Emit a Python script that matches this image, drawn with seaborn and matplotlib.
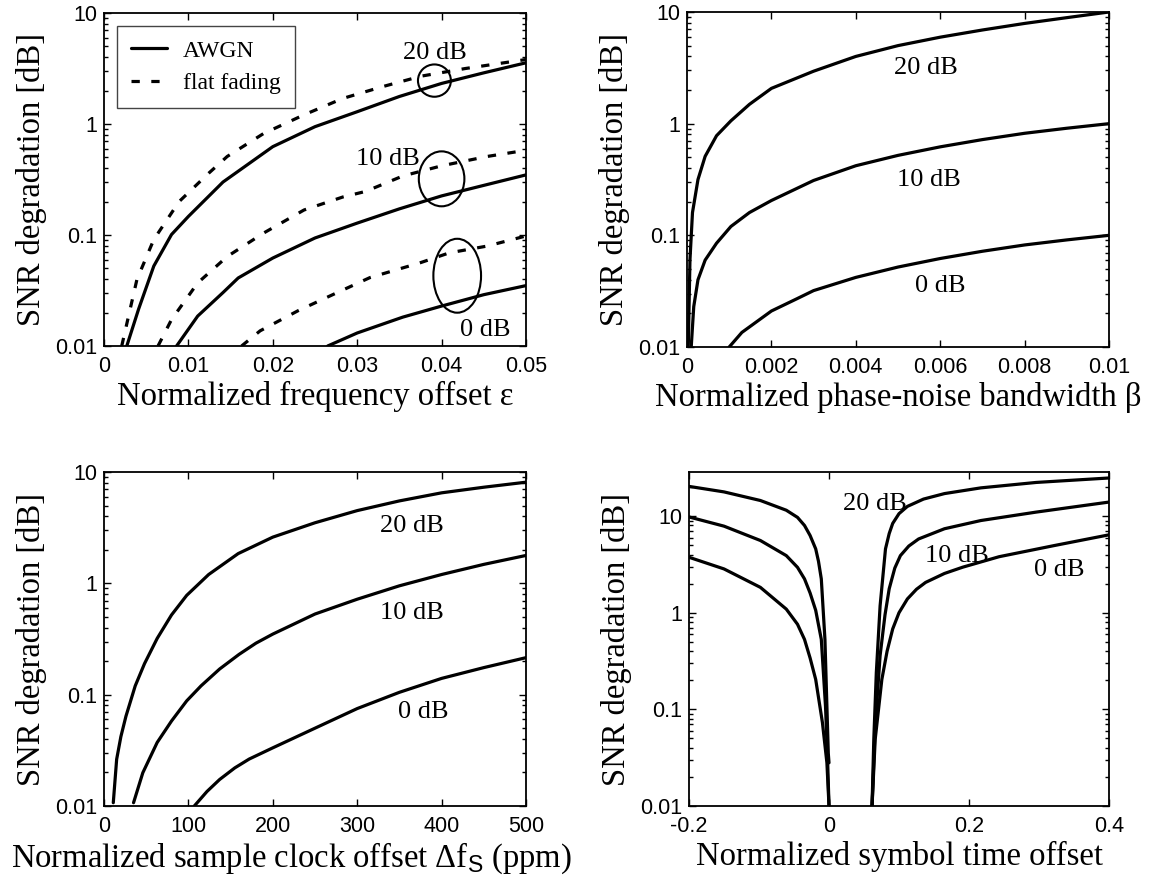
import matplotlib
matplotlib.use("Agg")
import matplotlib.pyplot as plt
from matplotlib.patches import Ellipse
from matplotlib.ticker import FuncFormatter, NullFormatter, LogLocator, FixedLocator
import seaborn as sns

# ---------------- data ----------------
# (a) frequency offset
eps_awgn20 = [0.0027, 0.0041, 0.0059, 0.008, 0.01, 0.0141, 0.02, 0.025, 0.03, 0.035, 0.04, 0.045, 0.05]
deg_awgn20 = [0.01, 0.0215, 0.0525, 0.101, 0.147, 0.30, 0.625, 0.946, 1.29, 1.77, 2.32, 2.89, 3.56]
eps_awgn10 = [0.0086, 0.0111, 0.0141, 0.0159, 0.02, 0.025, 0.03, 0.035, 0.04, 0.045, 0.05]
deg_awgn10 = [0.01, 0.0186, 0.0303, 0.041, 0.062, 0.094, 0.128, 0.172, 0.225, 0.28, 0.348]
eps_awgn0 = [0.0265, 0.03, 0.0354, 0.04, 0.045, 0.05]
deg_awgn0 = [0.01, 0.0131, 0.0182, 0.0229, 0.029, 0.035]
eps_ff20 = [0.0021, 0.0039, 0.0059, 0.0089, 0.0124, 0.0146, 0.0189, 0.0237, 0.0283, 0.033, 0.0376, 0.0428, 0.05]
deg_ff20 = [0.01, 0.0397, 0.091, 0.20, 0.36, 0.51, 0.82, 1.21, 1.70, 2.17, 2.7, 3.16, 3.81]
eps_ff10 = [0.0064, 0.008, 0.0111, 0.0146, 0.0189, 0.0237, 0.0283, 0.031, 0.0354, 0.04, 0.0454, 0.05]
deg_ff10 = [0.01, 0.0173, 0.037, 0.064, 0.104, 0.168, 0.22, 0.247, 0.34, 0.42, 0.51, 0.58]
eps_ff0 = [0.0163, 0.0185, 0.023, 0.0276, 0.0315, 0.0348, 0.0374, 0.0409, 0.0454, 0.05]
deg_ff0 = [0.01, 0.0137, 0.0208, 0.0302, 0.0413, 0.049, 0.056, 0.069, 0.0795, 0.098]

# (b) phase-noise bandwidth
beta20 = [0.00003, 0.00007, 0.00013, 0.00026, 0.00043, 0.0007, 0.00104, 0.00148, 0.002,
          0.003, 0.004, 0.005, 0.006, 0.007, 0.008, 0.009, 0.01]
deg_pn20 = [0.01, 0.06, 0.16, 0.316, 0.51, 0.78, 1.06, 1.49, 2.07,
            2.95, 4.0, 5.0, 5.95, 6.9, 7.9, 8.9, 10.0]
beta10 = [0.0001, 0.00016, 0.00026, 0.00043, 0.0007, 0.00104, 0.00148, 0.002,
          0.003, 0.004, 0.005, 0.006, 0.007, 0.008, 0.009, 0.01]
deg_pn10 = [0.01, 0.023, 0.04, 0.06, 0.085, 0.12, 0.16, 0.205,
            0.31, 0.42, 0.52, 0.62, 0.72, 0.82, 0.91, 1.0]
beta0 = [0.001, 0.0013, 0.002, 0.0026, 0.003, 0.004, 0.005, 0.006, 0.007, 0.008, 0.009, 0.01]
deg_pn0 = [0.01, 0.0135, 0.021, 0.027, 0.032, 0.042, 0.052, 0.062, 0.072, 0.082, 0.091, 0.1]

# (c) sample clock offset (ppm)
ppm20 = [11, 15, 20, 26, 37, 48, 63, 80, 98, 124, 159, 200, 250, 300, 350, 400, 450, 500]
deg_sc20 = [0.0107, 0.0263, 0.042, 0.064, 0.12, 0.19, 0.32, 0.52, 0.78, 1.2, 1.85, 2.6, 3.5, 4.5, 5.5, 6.5, 7.3, 8.1]
ppm10 = [35, 46, 63, 80, 98, 115, 137, 160, 180, 200, 250, 300, 350, 400, 450, 500]
deg_sc10 = [0.0107, 0.0199, 0.0372, 0.058, 0.088, 0.12, 0.17, 0.23, 0.29, 0.35, 0.53, 0.72, 0.95, 1.2, 1.48, 1.78]
ppm0 = [107, 122, 137, 155, 172, 200, 250, 300, 350, 400, 450, 500]
deg_sc0 = [0.01, 0.0135, 0.0173, 0.022, 0.0264, 0.0333, 0.05, 0.075, 0.105, 0.14, 0.175, 0.215]

# (d) symbol time offset, left and right branches
t20_l = [-0.2, -0.15, -0.098, -0.061, -0.045, -0.035, -0.027, -0.019, -0.015, -0.011, -0.0058, -0.003, -0.001, 0.0]
deg_st20_l = [20.3, 17.8, 14.5, 11.5, 9.7, 8.0, 6.3, 4.58, 3.4, 2.24, 0.53, 0.108, 0.035, 0.028]
t10_l = [-0.2, -0.15, -0.098, -0.061, -0.045, -0.035, -0.027, -0.019, -0.011, -0.005, -0.002, 0.0]
deg_st10_l = [9.8, 7.87, 5.59, 3.9, 2.95, 2.24, 1.6, 1.06, 0.53, 0.108, 0.03, 0.01]
t0_l = [-0.2, -0.15, -0.098, -0.061, -0.045, -0.035, -0.027, -0.019, -0.0094, -0.003, 0.0]
deg_st0_l = [3.75, 2.84, 1.83, 1.09, 0.76, 0.53, 0.34, 0.204, 0.073, 0.028, 0.01]
t20_r = [0.0615, 0.064, 0.0676, 0.073, 0.0807, 0.086, 0.091, 0.1, 0.112, 0.135, 0.165, 0.217, 0.296, 0.4]
deg_st20_r = [0.01, 0.049, 0.24, 1.18, 4.58, 6.6, 8.4, 10.6, 12.6, 15.0, 17.1, 19.6, 22.3, 24.8]
t10_r = [0.0615, 0.066, 0.073, 0.08, 0.086, 0.094, 0.102, 0.114, 0.128, 0.165, 0.217, 0.296, 0.4]
deg_st10_r = [0.01, 0.067, 0.36, 0.95, 1.77, 2.9, 3.9, 4.9, 5.8, 7.4, 9.0, 11.0, 13.97]
t0_r = [0.0615, 0.066, 0.0755, 0.083, 0.091, 0.1, 0.112, 0.125, 0.138, 0.165, 0.191, 0.243, 0.322, 0.4]
deg_st0_r = [0.01, 0.049, 0.204, 0.4, 0.68, 1.0, 1.39, 1.75, 2.06, 2.55, 2.96, 3.8, 4.96, 6.4]

snr_labels = ["20 dB", "10 dB", "0 dB"]

# ---------------- styling ----------------
sns.set_theme(style="ticks")
plt.rcParams["font.family"] = ["Liberation Serif", "DejaVu Serif"]
plt.rcParams["mathtext.fontset"] = "custom"
plt.rcParams["mathtext.rm"] = "Liberation Serif"
plt.rcParams["mathtext.sf"] = "Liberation Sans"
plt.rcParams["axes.linewidth"] = 1.3
plt.rcParams["axes.edgecolor"] = "black"
for k in ["text.color", "axes.labelcolor", "xtick.color", "ytick.color",
          "xtick.labelcolor", "ytick.labelcolor"]:
    plt.rcParams[k] = "black"

SERIF = "Liberation Serif"
SANS = "Liberation Sans"
LW = 2.3
DASH = (0, (2.6, 3.6))

fig = plt.figure(figsize=(11.52, 8.77), dpi=100)
W, H = 1152.0, 877.0


def make_ax(l, r, t, b):
    return fig.add_axes([l / W, 1 - b / H, (r - l) / W, (b - t) / H])


ax1 = make_ax(104, 526, 13, 346)
ax2 = make_ax(687, 1109, 12, 347)
ax3 = make_ax(104, 526, 472, 806)
ax4 = make_ax(689, 1109, 472, 806)


def style_axis(ax, xlim, ylim, xticks, xlabel, xlabel_x=0.5):
    ax.set_yscale("log")
    ax.set_xlim(*xlim)
    ax.set_ylim(*ylim)
    ax.xaxis.set_major_locator(FixedLocator(xticks))
    ax.xaxis.set_major_formatter(FuncFormatter(lambda v, p: f"{v:g}"))
    ax.yaxis.set_major_locator(LogLocator(base=10, numticks=10))
    ax.yaxis.set_minor_locator(LogLocator(base=10, subs=range(2, 10), numticks=10))
    ax.yaxis.set_major_formatter(FuncFormatter(lambda v, p: f"{v:g}"))
    ax.yaxis.set_minor_formatter(NullFormatter())
    ax.tick_params(which="both", direction="in", top=True, right=True,
                   color="black", width=1.0)
    ax.tick_params(which="major", length=5, labelsize=15.5,
                   labelfontfamily=SANS, labelcolor="black")
    ax.tick_params(axis="x", which="major", pad=7)
    ax.tick_params(axis="y", which="major", pad=5)
    ax.tick_params(which="minor", length=3)
    ax.set_xlabel(xlabel, fontsize=23.5, family=SERIF, labelpad=3, color="black",
                  x=xlabel_x)
    ax.set_ylabel("SNR degradation [dB]", fontsize=23.5, family=SERIF, labelpad=6,
                  color="black")
    for s in ax.spines.values():
        s.set_visible(True)
        s.set_color("black")
        s.set_linewidth(1.3)


def curve(ax, x, y, dashed=False, label=None):
    kw = dict(x=x, y=y, ax=ax, color="black", linewidth=LW, legend=False,
              estimator=None, sort=False)
    if dashed:
        kw["linestyle"] = DASH
    if label is not None:
        kw["label"] = label
    sns.lineplot(**kw)


def put_labels(ax, positions):
    for txt, (fx, fy) in zip(snr_labels, positions):
        ax.text(fx, fy, txt, transform=ax.transAxes, ha="center", va="center_baseline",
                fontsize=19, family=SERIF, color="black")


# (a)
curve(ax1, eps_awgn20, deg_awgn20, label="AWGN")
curve(ax1, eps_awgn10, deg_awgn10)
curve(ax1, eps_awgn0, deg_awgn0)
curve(ax1, eps_ff20, deg_ff20, dashed=True, label="flat fading")
curve(ax1, eps_ff10, deg_ff10, dashed=True)
curve(ax1, eps_ff0, deg_ff0, dashed=True)
style_axis(ax1, (0, 0.05), (0.01, 10), [0, 0.01, 0.02, 0.03, 0.04, 0.05],
           "Normalized frequency offset \u03b5")
put_labels(ax1, [(0.783, 0.888), (0.672, 0.569), (0.903, 0.055)])
for (cx, cy, w, h) in [(0.783, 0.797, 0.078, 0.097),
                       (0.800, 0.502, 0.108, 0.165),
                       (0.837, 0.211, 0.113, 0.222)]:
    ax1.add_patch(Ellipse((cx, cy), w, h, transform=ax1.transAxes, fill=False,
                          edgecolor="black", linewidth=1.5, zorder=5))
leg = ax1.legend(loc="upper left", bbox_to_anchor=(0.031, 0.961), borderaxespad=0,
                 prop={"family": SERIF, "size": 17}, frameon=True, fancybox=False,
                 edgecolor="#444444", framealpha=1, handlelength=1.5, handletextpad=0.7,
                 borderpad=0.6, labelspacing=0.45)
leg.get_frame().set_linewidth(1.0)

# (b)
curve(ax2, beta20, deg_pn20)
curve(ax2, beta10, deg_pn10)
curve(ax2, beta0, deg_pn0)
style_axis(ax2, (0, 0.01), (0.01, 10), [0, 0.002, 0.004, 0.006, 0.008, 0.01],
           "Normalized phase-noise bandwidth \u03b2")
put_labels(ax2, [(0.565, 0.84), (0.574, 0.505), (0.60, 0.19)])

# (c)
curve(ax3, ppm20, deg_sc20)
curve(ax3, ppm10, deg_sc10)
curve(ax3, ppm0, deg_sc0)
style_axis(ax3, (0, 500), (0.01, 10), [0, 100, 200, 300, 400, 500],
           r"Normalized sample clock offset $\Delta$f$_\mathsf{S}$ (ppm)", xlabel_x=0.445)
put_labels(ax3, [(0.73, 0.845), (0.73, 0.585), (0.757, 0.29)])

# (d)
curve(ax4, t20_l, deg_st20_l)
curve(ax4, t10_l, deg_st10_l)
curve(ax4, t0_l, deg_st0_l)
curve(ax4, t20_r, deg_st20_r)
curve(ax4, t10_r, deg_st10_r)
curve(ax4, t0_r, deg_st0_r)
style_axis(ax4, (-0.2, 0.4), (0.01, 28.6), [-0.2, 0, 0.2, 0.4],
           "Normalized symbol time offset")
put_labels(ax4, [(0.443, 0.912), (0.638, 0.755), (0.882, 0.715)])

fig.savefig("out.png", dpi=100, facecolor="white")
